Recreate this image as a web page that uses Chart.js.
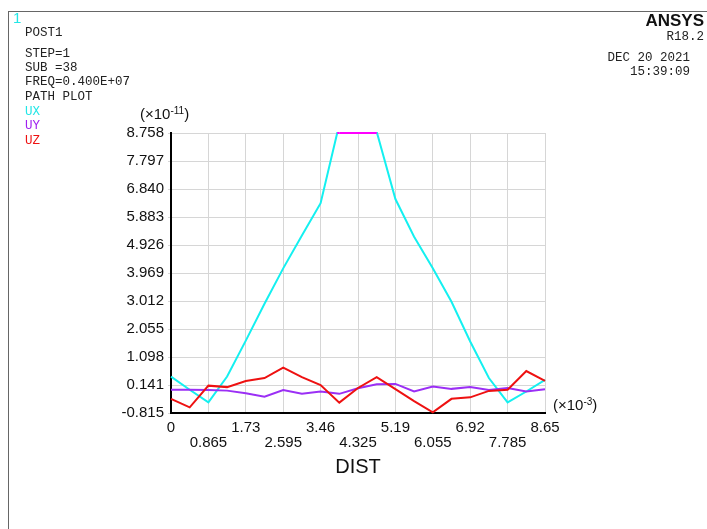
<!DOCTYPE html>
<html>
<head>
<meta charset="utf-8">
<script src="https://cdn.jsdelivr.net/npm/chart.js@4"></script>
<style>
  body { margin: 0; background: #fff; }
  #wrap { position: relative; width: 707px; height: 529px; overflow: hidden; }
  #chart { position: absolute; left: 0; top: 0; }
  .frame { position: absolute; left: 8px; top: 11px; width: 720px; height: 540px; border-top: 1px solid #666; border-left: 1px solid #666; }
  .t { position: absolute; white-space: pre; line-height: 14px; }
  .mono { font-family: "Liberation Mono", "DejaVu Sans Mono", monospace; font-size: 12.5px; color: #222; }
  .sans { font-family: "Liberation Sans", Arial, sans-serif; font-size: 15px; color: #111; line-height: 18px; }
  .sans sup { font-size: 10px; vertical-align: 5px; line-height: 0; }
</style>
</head>
<body>
<div id="wrap">
  <canvas id="chart" width="707" height="529"></canvas>
  <div class="frame"></div>

  <div class="t" style="left:13px;top:11px;font-family:'Liberation Sans',sans-serif;font-size:15px;color:#22e6e6;">1</div>
  <div class="t mono" style="left:25px;top:26px;">POST1</div>
  <div class="t mono" style="left:25px;top:47px;">STEP=1</div>
  <div class="t mono" style="left:25px;top:61px;">SUB =38</div>
  <div class="t mono" style="left:25px;top:75px;">FREQ=0.400E+07</div>
  <div class="t mono" style="left:25px;top:90px;">PATH PLOT</div>
  <div class="t mono" style="left:25px;top:105px;color:#22e6e6;">UX</div>
  <div class="t mono" style="left:25px;top:119px;color:#a020f0;">UY</div>
  <div class="t mono" style="left:25px;top:134px;color:#ee1111;">UZ</div>

  <div class="t" style="right:3px;top:12px;font-family:'Liberation Sans',Arial,sans-serif;font-weight:bold;font-size:17px;line-height:18px;color:#111;">ANSYS</div>
  <div class="t mono" style="right:3px;top:30px;">R18.2</div>
  <div class="t mono" style="right:17px;top:51px;">DEC 20 2021</div>
  <div class="t mono" style="right:17px;top:65px;">15:39:09</div>

  <div class="t sans" style="left:140px;top:105px;">(×10<sup>-11</sup>)</div>
  <div class="t sans" style="left:553px;top:396px;">(×10<sup>-3</sup>)</div>
</div>

<script>
// path distance (x10^-3) and displacement along path (x10^-11)
const dist = [0, 0.4325, 0.865, 1.2975, 1.73, 2.1625, 2.595, 3.0275, 3.46, 3.8925, 4.325,
  4.7575, 5.19, 5.6225, 6.055, 6.4875, 6.92, 7.3525, 7.785, 8.2175, 8.65];
const ux = [0.43, -0.02, -0.45, 0.43, 1.66, 2.92, 4.13, 5.25, 6.36, 9.06, 9.30,
  8.80, 6.50, 5.21, 4.13, 2.99, 1.63, 0.38, -0.45, -0.08, 0.32];
const uy = [-0.02, -0.02, -0.03, -0.05, -0.14, -0.26, -0.03, -0.16, -0.08, -0.16, 0.03,
  0.17, 0.18, -0.08, 0.09, 0.01, 0.07, -0.03, 0.04, -0.08, 0.0];
const uz = [-0.33, -0.62, 0.12, 0.07, 0.28, 0.38, 0.74, 0.41, 0.14, -0.46, 0.04,
  0.41, 0.0, -0.41, -0.79, -0.33, -0.28, -0.06, -0.02, 0.62, 0.28];

const xTicks = [0, 0.865, 1.73, 2.595, 3.46, 4.325, 5.19, 6.055, 6.92, 7.785, 8.65];
const xLabels = ["0", "0.865", "1.73", "2.595", "3.46", "4.325", "5.19", "6.055", "6.92", "7.785", "8.65"];
const yTicks = [-0.815, 0.141, 1.098, 2.055, 3.012, 3.969, 4.926, 5.883, 6.840, 7.797, 8.758];
const yLabels = ["-0.815", "0.141", "1.098", "2.055", "3.012", "3.969", "4.926", "5.883", "6.840", "7.797", "8.758"];

const pts = arr => arr.map((v, i) => ({ x: dist[i], y: v }));

// ANSYS marks the part of a curve above the axis max in magenta
const clipMark = {
  id: "clipMark",
  afterDatasetsDraw(chart) {
    const { ctx, scales: { x, y } } = chart;
    const top = y.max;
    const d = chart.data.datasets[0].data;
    ctx.save();
    ctx.strokeStyle = "#ff00ff";
    ctx.lineWidth = 2;
    for (let i = 0; i < d.length - 1; i++) {
      const a = d[i], b = d[i + 1];
      if (a.y <= top && b.y <= top) continue;
      const xa = a.y > top ? a.x : a.x + (top - a.y) / (b.y - a.y) * (b.x - a.x);
      const xb = b.y > top ? b.x : a.x + (top - a.y) / (b.y - a.y) * (b.x - a.x);
      ctx.beginPath();
      ctx.moveTo(x.getPixelForValue(xa), y.getPixelForValue(top));
      ctx.lineTo(x.getPixelForValue(xb), y.getPixelForValue(top));
      ctx.stroke();
    }
    ctx.restore();
  }
};

const font = { family: "'Liberation Sans', Arial, sans-serif", size: 15 };

new Chart(document.getElementById("chart"), {
  type: "line",
  data: {
    datasets: [
      { label: "UX", data: pts(ux), borderColor: "#14f0f0", order: 3 },
      { label: "UY", data: pts(uy), borderColor: "#9b2ff5", order: 2 },
      { label: "UZ", data: pts(uz), borderColor: "#ee1111", order: 1 }
    ]
  },
  options: {
    responsive: false,
    animation: false,
    layout: { padding: { left: 0, top: 133, right: 162, bottom: 0 } },
    elements: {
      line: { borderWidth: 2, tension: 0 },
      point: { radius: 0 }
    },
    datasets: { line: { clip: 1 } },
    plugins: { legend: { display: false }, tooltip: { enabled: false } },
    scales: {
      x: {
        type: "linear",
        min: 0,
        max: 8.65,
        afterBuildTicks: s => { s.ticks = xTicks.map(v => ({ value: v })); },
        afterFit: s => { s.height = 116; },
        ticks: {
          autoSkip: false,
          maxRotation: 0,
          padding: 7,
          color: "#111",
          font: { ...font, lineHeight: 1.03 },
          callback: (v, i) => i % 2 === 0 ? xLabels[i] : ["", xLabels[i]]
        },
        grid: { color: "#d6d6d6", tickLength: 0 },
        border: { color: "#000", width: 2 },
        title: {
          display: true,
          text: "DIST",
          color: "#111",
          font: { family: font.family, size: 20 },
          padding: { top: 0, bottom: 50 }
        }
      },
      y: {
        min: -0.815,
        max: 8.758,
        afterBuildTicks: s => { s.ticks = yTicks.map(v => ({ value: v })); },
        afterFit: s => { s.width = 171; },
        ticks: {
          padding: 4,
          color: "#111",
          font: font,
          callback: (v, i) => yLabels[i]
        },
        grid: { color: "#d6d6d6", tickLength: 3 },
        border: { color: "#000", width: 2 }
      }
    }
  },
  plugins: [clipMark]
});
</script>
</body>
</html>
